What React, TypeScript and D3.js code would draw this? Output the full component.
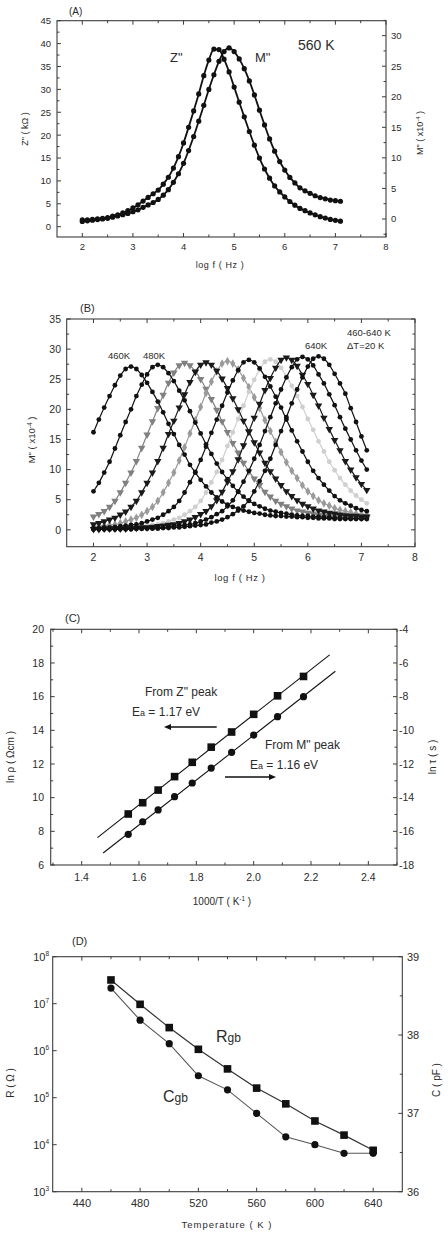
import React from "react";
import * as d3 from "d3";

const FONT = "'Liberation Sans', Arial, Helvetica, sans-serif";
const INK = "#2b2b2b";
const LINE = "#3c3c3c";

// shared frequency grid, log f (Hz)
const logF = [
  2.0, 2.1, 2.2, 2.3, 2.4, 2.5, 2.6, 2.7, 2.8, 2.9,
  3.0, 3.1, 3.2, 3.3, 3.4, 3.5, 3.6, 3.7, 3.8, 3.9,
  4.0, 4.1, 4.2, 4.3, 4.4, 4.5, 4.6, 4.7, 4.8, 4.9,
  5.0, 5.1, 5.2, 5.3, 5.4, 5.5, 5.6, 5.7, 5.8, 5.9,
  6.0, 6.1, 6.2, 6.3, 6.4, 6.5, 6.6, 6.7, 6.8, 6.9,
  7.0, 7.1,
];

// (A) 560 K : Z'' (kOhm, left) and M'' (x1e-4, right)
const zA = [
  1.5, 1.5, 1.6, 1.7, 1.8, 2.0, 2.3, 2.6, 3.0, 3.5,
  4.1, 4.8, 5.6, 6.4, 7.2, 8.0, 9.3, 10.8, 12.8, 15.3,
  18.3, 21.7, 25.3, 29.0, 33.0, 36.4, 38.8, 38.7, 36.6, 33.8,
  30.5, 27.2, 24.0, 20.8, 17.8, 15.0, 12.6, 10.6, 8.9, 7.6,
  6.5, 5.5, 4.7, 4.0, 3.5, 3.0, 2.6, 2.2, 1.9, 1.6,
  1.4, 1.2,
];
const mA = [
  -0.4, -0.3, -0.2, -0.1, 0.0, 0.1, 0.3, 0.5, 0.7, 0.9,
  1.2, 1.5, 1.9, 2.3, 2.7, 3.2, 3.9, 4.8, 6.0, 7.4,
  9.1, 11.2, 13.5, 16.0, 18.6, 21.2, 23.6, 25.8, 27.4, 28.0,
  27.4, 26.2, 24.6, 22.6, 20.3, 17.8, 15.4, 13.1, 11.1, 9.4,
  8.0, 6.8, 5.9, 5.1, 4.6, 4.2, 3.8, 3.5, 3.3, 3.1,
  3.0, 2.9,
];

// (B) M'' (x1e-4), 460-640 K
const tempsB = [460, 480, 500, 520, 540, 560, 580, 600, 620, 640];
const mB460 = [
  16.2, 18.3, 20.3, 22.2, 24.0, 25.6, 26.7, 27.1, 26.7, 25.7,
  24.4, 22.9, 21.3, 19.5, 17.6, 15.9, 14.1, 12.5, 10.8, 9.5,
  8.3, 7.2, 6.2, 5.4, 4.7, 4.2, 3.8, 3.5, 3.2, 3.0,
  2.8, 2.7, 2.5, 2.4, 2.3, 2.3, 2.2, 2.2, 2.1, 2.1,
  2.0, 2.0, 1.9, 1.9, 1.9, 1.8, 1.8, 1.8, 1.8, 1.8,
  1.8, 1.8,
];
const mB480 = [
  6.4, 7.8, 9.5, 11.3, 13.5, 15.7, 17.9, 20.0, 22.2, 24.1,
  25.8, 27.0, 27.4, 27.0, 26.0, 24.7, 23.1, 21.5, 19.7, 17.8,
  16.0, 14.2, 12.6, 11.0, 9.6, 8.4, 7.3, 6.3, 5.5, 4.8,
  4.3, 3.9, 3.5, 3.2, 3.0, 2.8, 2.7, 2.5, 2.4, 2.3,
  2.3, 2.2, 2.2, 2.1, 2.1, 2.0, 2.0, 1.9, 1.9, 1.9,
  1.9, 1.9,
];
const mB500 = [
  2.2, 2.6, 3.1, 3.8, 4.8, 6.2, 7.8, 9.5, 11.4, 13.6,
  15.8, 18.0, 20.2, 22.4, 24.4, 26.1, 27.3, 27.7, 27.3, 26.3,
  25.0, 23.4, 21.7, 19.9, 18.0, 16.2, 14.4, 12.8, 11.1, 9.7,
  8.5, 7.4, 6.3, 5.5, 4.8, 4.3, 3.9, 3.5, 3.2, 3.0,
  2.8, 2.7, 2.5, 2.4, 2.3, 2.3, 2.2, 2.2, 2.1, 2.1,
  2.0, 2.0,
];
const mB520 = [
  0.9, 1.1, 1.4, 1.7, 2.0, 2.5, 3.0, 3.8, 4.8, 6.2,
  7.8, 9.5, 11.4, 13.6, 15.9, 18.1, 20.3, 22.5, 24.5, 26.2,
  27.4, 27.8, 27.4, 26.4, 25.1, 23.5, 21.8, 20.0, 18.1, 16.3,
  14.5, 12.8, 11.1, 9.7, 8.5, 7.4, 6.4, 5.6, 4.9, 4.3,
  3.9, 3.5, 3.2, 3.0, 2.8, 2.7, 2.5, 2.4, 2.3, 2.3,
  2.2, 2.2,
];
const mB540 = [
  0.5, 0.6, 0.7, 0.8, 0.9, 1.1, 1.4, 1.7, 2.0, 2.5,
  3.1, 3.8, 4.8, 6.2, 7.8, 9.5, 11.5, 13.7, 16.0, 18.2,
  20.4, 22.7, 24.6, 26.3, 27.6, 28.0, 27.6, 26.6, 25.2, 23.7,
  22.0, 20.2, 18.2, 16.4, 14.6, 12.9, 11.2, 9.8, 8.6, 7.4,
  6.4, 5.6, 4.9, 4.4, 4.0, 3.6, 3.3, 3.1, 2.9, 2.7,
  2.6, 2.5,
];
const mB560 = [
  0.3, 0.3, 0.4, 0.4, 0.5, 0.6, 0.7, 0.8, 0.9, 1.1,
  1.4, 1.7, 2.0, 2.5, 3.1, 3.8, 4.8, 6.2, 7.9, 9.6,
  11.6, 13.8, 16.1, 18.3, 20.6, 22.8, 24.8, 26.5, 27.8, 28.2,
  27.8, 26.8, 25.4, 23.8, 22.1, 20.3, 18.3, 16.5, 14.7, 13.0,
  11.3, 9.8, 8.6, 7.5, 6.5, 5.6, 4.9, 4.4, 4.0, 3.6,
  3.3, 3.1,
];
const mB580 = [
  0.2, 0.2, 0.2, 0.2, 0.3, 0.3, 0.4, 0.4, 0.5, 0.6,
  0.7, 0.8, 0.9, 1.1, 1.4, 1.7, 2.0, 2.5, 3.1, 3.8,
  4.8, 6.2, 7.9, 9.6, 11.6, 13.9, 16.2, 18.4, 20.6, 22.9,
  24.9, 26.6, 27.9, 28.3, 27.9, 26.9, 25.5, 23.9, 22.2, 20.4,
  18.4, 16.6, 14.7, 13.0, 11.3, 9.9, 8.6, 7.5, 6.5, 5.7,
  5.0, 4.4,
];
const mB600 = [
  0.1, 0.1, 0.2, 0.2, 0.2, 0.2, 0.2, 0.3, 0.3, 0.4,
  0.4, 0.5, 0.6, 0.7, 0.8, 0.9, 1.1, 1.4, 1.7, 2.1,
  2.6, 3.1, 3.9, 4.9, 6.3, 8.0, 9.7, 11.7, 14.0, 16.3,
  18.6, 20.9, 23.2, 25.2, 26.9, 28.2, 28.6, 28.2, 27.2, 25.7,
  24.2, 22.4, 20.6, 18.6, 16.7, 14.9, 13.2, 11.4, 10.0, 8.7,
  7.6, 6.6,
];
const mB620 = [
  0.1, 0.1, 0.1, 0.1, 0.1, 0.2, 0.2, 0.2, 0.2, 0.2,
  0.3, 0.3, 0.4, 0.4, 0.5, 0.6, 0.7, 0.8, 0.9, 1.1,
  1.4, 1.7, 2.1, 2.6, 3.1, 3.9, 4.9, 6.4, 8.0, 9.8,
  11.8, 14.1, 16.4, 18.7, 21.0, 23.3, 25.3, 27.0, 28.3, 28.7,
  28.3, 27.3, 25.8, 24.3, 22.5, 20.7, 18.7, 16.8, 15.0, 13.2,
  11.5, 10.0,
];
const mB640 = [
  0.1, 0.1, 0.1, 0.1, 0.1, 0.1, 0.1, 0.1, 0.2, 0.2,
  0.2, 0.2, 0.2, 0.3, 0.3, 0.4, 0.4, 0.5, 0.6, 0.7,
  0.8, 0.9, 1.2, 1.4, 1.7, 2.1, 2.6, 3.2, 3.9, 4.9,
  6.4, 8.1, 9.8, 11.8, 14.1, 16.4, 18.7, 21.0, 23.3, 25.3,
  27.1, 28.4, 28.8, 28.4, 27.4, 25.9, 24.3, 22.6, 20.2, 17.9,
  15.5, 13.2,
];
const seriesB = [mB460, mB480, mB500, mB520, mB540, mB560, mB580, mB600, mB620, mB640];

// (C) Arrhenius plots
const invT = [1.5625, 1.6129, 1.6667, 1.7241, 1.7857, 1.8519, 1.9231, 2.0, 2.0833, 2.1739];
const lnRho = [9.03, 9.7, 10.45, 11.25, 12.1, 13.0, 13.9, 14.95, 16.05, 17.2];
const lnTau = [-16.18, -15.43, -14.73, -13.94, -13.13, -12.24, -11.31, -10.28, -9.19, -8.0];
const zFitX = [1.455, 2.265];
const mFitX = [1.475, 2.285];

// (D) grain boundary R and C
const tempD = [460, 480, 500, 520, 540, 560, 580, 600, 620, 640];
const rGb = [3.2e7, 9.7e6, 3.1e6, 1.07e6, 4.1e5, 1.6e5, 7.4e4, 3.2e4, 1.6e4, 7.6e3];
const cGb = [38.6, 38.19, 37.89, 37.48, 37.3, 37.0, 36.7, 36.6, 36.49, 36.49];

type Ax = {
  scale: (v: number) => number;
  major: number[];
  minor?: number[];
  label?: (v: number) => React.ReactNode;
};

function Box({ left, right, top, bottom, xb, yl, yr, fs, xLabY, lLabX, rLabX }: any) {
  const T = 4, t = 2.5;
  const xa: Ax = xb, la: Ax = yl, ra: Ax | undefined = yr;
  return (
    <g fontFamily={FONT} fontSize={fs} fill={INK}>
      <rect x={left} y={top} width={right - left} height={bottom - top} fill="none" stroke={LINE} strokeWidth={1.1} />
      {xa.major.map((v) => {
        const p = xa.scale(v);
        return (
          <g key={"xm" + v}>
            <line x1={p} x2={p} y1={bottom} y2={bottom - T} stroke={LINE} />
            <line x1={p} x2={p} y1={top} y2={top + T} stroke={LINE} />
            <text x={p} y={xLabY} textAnchor="middle">{xa.label ? xa.label(v) : v}</text>
          </g>
        );
      })}
      {(xa.minor || []).map((v) => {
        const p = xa.scale(v);
        return (
          <g key={"xn" + v}>
            <line x1={p} x2={p} y1={bottom} y2={bottom - t} stroke={LINE} />
            <line x1={p} x2={p} y1={top} y2={top + t} stroke={LINE} />
          </g>
        );
      })}
      {la.major.map((v) => {
        const p = la.scale(v);
        return (
          <g key={"lm" + v}>
            <line x1={left} x2={left + T} y1={p} y2={p} stroke={LINE} />
            {!ra && <line x1={right} x2={right - T} y1={p} y2={p} stroke={LINE} />}
            <text x={lLabX} y={p + fs * 0.36} textAnchor="end">{la.label ? la.label(v) : v}</text>
          </g>
        );
      })}
      {(la.minor || []).map((v) => {
        const p = la.scale(v);
        return (
          <g key={"ln" + v}>
            <line x1={left} x2={left + t} y1={p} y2={p} stroke={LINE} />
            {!ra && <line x1={right} x2={right - t} y1={p} y2={p} stroke={LINE} />}
          </g>
        );
      })}
      {ra &&
        ra.major.map((v) => {
          const p = ra.scale(v);
          return (
            <g key={"rm" + v}>
              <line x1={right} x2={right - T} y1={p} y2={p} stroke={LINE} />
              <text x={rLabX} y={p + fs * 0.36} textAnchor="start">{ra.label ? ra.label(v) : v}</text>
            </g>
          );
        })}
      {ra &&
        (ra.minor || []).map((v) => {
          const p = ra.scale(v);
          return <line key={"rn" + v} x1={right} x2={right - t} y1={p} y2={p} stroke={LINE} />;
        })}
    </g>
  );
}

function VLabel({ x, y, fs, children }: any) {
  return (
    <text transform={`translate(${x},${y}) rotate(-90)`} textAnchor="middle" fontFamily={FONT} fontSize={fs} fill={INK}>
      {children}
    </text>
  );
}

function Arrow({ x1, x2, y }: any) {
  const dir = Math.sign(x2 - x1);
  return (
    <g>
      <line x1={x1} x2={x2 - dir * 5} y1={y} y2={y} stroke="#111" strokeWidth={1.3} />
      <path d={`M${x2},${y} L${x2 - dir * 7},${y - 3} L${x2 - dir * 7},${y + 3} Z`} fill="#111" />
    </g>
  );
}

const half = (a: number, b: number, s: number) => d3.range(a, b + 1e-9, s);

function PanelA() {
  const x = d3.scaleLinear().domain([1.5, 8]).range([57, 386]);
  const yl = d3.scaleLinear().domain([-2.25, 45]).range([237, 20.7]);
  const yr = d3.scaleLinear().domain([-2.95, 32.45]).range([237, 20.7]);
  const lz = d3.line<number>().x((_, i) => x(logF[i])).y((v) => yl(v)).curve(d3.curveMonotoneX);
  const lm = d3.line<number>().x((_, i) => x(logF[i])).y((v) => yr(v)).curve(d3.curveMonotoneX);
  return (
    <g>
      <Box
        left={57} right={386} top={20.7} bottom={237} fs={9.5} xLabY={250} lLabX={51} rLabX={391}
        xb={{ scale: x, major: half(2, 8, 1), minor: half(2.5, 7.5, 1) }}
        yl={{ scale: yl, major: half(0, 45, 5), minor: half(2.5, 42.5, 5) }}
        yr={{ scale: yr, major: half(0, 30, 5), minor: half(-2.5, 32.5, 2.5).filter((v) => v % 5 !== 0) }}
      />
      <path d={lz(zA) || ""} fill="none" stroke="#111" strokeWidth={1.8} />
      <path d={lm(mA) || ""} fill="none" stroke="#111" strokeWidth={1.8} />
      {zA.map((v, i) => <circle key={"z" + i} cx={x(logF[i])} cy={yl(v)} r={2.6} fill="#111" />)}
      {mA.map((v, i) => <circle key={"m" + i} cx={x(logF[i])} cy={yr(v)} r={2.6} fill="#111" />)}
      <g fontFamily={FONT} fill={INK}>
        <text x={69} y={15} fontSize={10}>(A)</text>
        <text x={170} y={62} fontSize={13}>Z"</text>
        <text x={255} y={62} fontSize={13}>M"</text>
        <text x={298} y={50} fontSize={14}>560 K</text>
        <text x={220} y={268} fontSize={9} textAnchor="middle" letterSpacing={0.6}>log f ( Hz )</text>
      </g>
      <VLabel x={28} y={129} fs={9}>Z" ( kΩ )</VLabel>
      <VLabel x={423} y={133} fs={9}>
        M" ( x10<tspan dy={-3} fontSize={6}>-4</tspan><tspan dy={3}> )</tspan>
      </VLabel>
    </g>
  );
}

const styleB: Record<number, { fill: string; shape: string }> = {
  460: { fill: "#111", shape: "circle" },
  480: { fill: "#111", shape: "circle" },
  500: { fill: "#808080", shape: "tri" },
  520: { fill: "#1a1a1a", shape: "tri" },
  540: { fill: "#9a9a9a", shape: "diamond" },
  560: { fill: "#111", shape: "circle" },
  580: { fill: "#cfcfcf", shape: "circle" },
  600: { fill: "#1a1a1a", shape: "tri" },
  620: { fill: "#111", shape: "circle" },
  640: { fill: "#111", shape: "circle" },
};

function PanelB() {
  const x = d3.scaleLinear().domain([1.5, 8]).range([66.7, 415]);
  const y = d3.scaleLinear().domain([-2.8, 35]).range([546.7, 319]);
  const line = d3.line<number>().x((_, i) => x(logF[i])).y((v) => y(v)).curve(d3.curveMonotoneX);
  const tri = d3.symbol().type(d3.symbolTriangle).size(24)() || "";
  const dia = d3.symbol().type(d3.symbolDiamond).size(22)() || "";
  const dark = (k: number) => (styleB[tempsB[k]].fill === "#111" || styleB[tempsB[k]].fill === "#1a1a1a" ? 1 : 0);
  const order = tempsB.map((t, k) => k).sort((a, b) => dark(a) - dark(b));
  return (
    <g>
      <Box
        left={66.7} right={415} top={319} bottom={546.7} fs={10.5} xLabY={561} lLabX={61}
        xb={{ scale: x, major: half(2, 8, 1), minor: half(2.5, 7.5, 1) }}
        yl={{ scale: y, major: half(0, 35, 5), minor: half(2.5, 32.5, 5) }}
      />
      {order.map((k) => {
        const s = styleB[tempsB[k]];
        const data = seriesB[k];
        return (
          <g key={"b" + tempsB[k]}>
            <path d={line(data) || ""} fill="none" stroke={s.fill} strokeWidth={1.2} />
            {data.map((v, i) => {
              const cx = x(logF[i]), cy = y(v);
              if (s.shape === "circle") return <circle key={i} cx={cx} cy={cy} r={2.4} fill={s.fill} />;
              if (s.shape === "tri")
                return <path key={i} d={tri} transform={`translate(${cx},${cy}) rotate(180)`} fill={s.fill} />;
              return <path key={i} d={dia} transform={`translate(${cx},${cy})`} fill={s.fill} />;
            })}
          </g>
        );
      })}
      <g fontFamily={FONT} fill={INK} fontSize={9.5}>
        <text x={80} y={312} fontSize={11}>(B)</text>
        <text x={108} y={359}>460K</text>
        <text x={143} y={359}>480K</text>
        <text x={305} y={349}>640K</text>
        <text x={347} y={349}>ΔT=20 K</text>
        <text x={347} y={336}>460-640 K</text>
        <text x={240} y={581} textAnchor="middle" letterSpacing={0.6}>log f ( Hz )</text>
      </g>
      <VLabel x={35} y={440} fs={9.5}>
        M" ( x10<tspan dy={-3} fontSize={6.5}>-4</tspan><tspan dy={3}> )</tspan>
      </VLabel>
    </g>
  );
}

function fit(xs: number[], ys: number[]) {
  const mx = d3.mean(xs) as number, my = d3.mean(ys) as number;
  const b = d3.sum(xs, (v, i) => (v - mx) * (ys[i] - my)) / d3.sum(xs, (v) => (v - mx) ** 2);
  return (v: number) => my + b * (v - mx);
}

function PanelC() {
  const x = d3.scaleLinear().domain([1.292, 2.5]).range([50.7, 397]);
  const yl = d3.scaleLinear().domain([6, 20]).range([865, 629.3]);
  const yr = d3.scaleLinear().domain([-18, -4]).range([865, 629.3]);
  const fz = fit(invT, lnRho), fm = fit(invT, lnTau);
  return (
    <g>
      <Box
        left={50.7} right={397} top={629.3} bottom={865} fs={10.5} xLabY={881} lLabX={44} rLabX={399}
        xb={{ scale: x, major: half(1.4, 2.4, 0.2), minor: half(1.3, 2.5, 0.2), label: (v: number) => v.toFixed(1) }}
        yl={{ scale: yl, major: half(6, 20, 2), minor: half(7, 19, 2) }}
        yr={{ scale: yr, major: half(-18, -4, 2), minor: half(-17, -5, 2) }}
      />
      <line x1={x(zFitX[0])} x2={x(zFitX[1])} y1={yl(fz(zFitX[0]))} y2={yl(fz(zFitX[1]))} stroke="#111" strokeWidth={1.1} />
      <line x1={x(mFitX[0])} x2={x(mFitX[1])} y1={yr(fm(mFitX[0]))} y2={yr(fm(mFitX[1]))} stroke="#111" strokeWidth={1.1} />
      {invT.map((v, i) => (
        <rect key={"s" + i} x={x(v) - 3.8} y={yl(lnRho[i]) - 3.8} width={7.6} height={7.6} fill="#111" />
      ))}
      {invT.map((v, i) => <circle key={"c" + i} cx={x(v)} cy={yr(lnTau[i])} r={3.6} fill="#111" />)}
      <g fontFamily={FONT} fill={INK} fontSize={12}>
        <text x={65} y={622} fontSize={11}>(C)</text>
        <text x={145} y={696}>From Z" peak</text>
        <text x={132} y={716}>E<tspan fontSize={9}>a</tspan> = 1.17 eV</text>
        <text x={265} y={749}>From M" peak</text>
        <text x={250} y={769}>E<tspan fontSize={9}>a</tspan> = 1.16 eV</text>
        <text x={222} y={905} fontSize={10} textAnchor="middle">
          1000/T  ( K<tspan dy={-4} fontSize={6.5}>-1</tspan><tspan dy={4}> )</tspan>
        </text>
      </g>
      <Arrow x1={216.7} x2={164} y={727} />
      <Arrow x1={225} x2={276} y={777} />
      <VLabel x={14} y={757} fs={10}>ln ρ ( Ωcm )</VLabel>
      <VLabel x={436} y={757} fs={10}>ln τ ( s )</VLabel>
    </g>
  );
}

function PanelD() {
  const x = d3.scaleLinear().domain([420, 660]).range([52.7, 402.3]);
  const yl = d3.scaleLog().domain([1e3, 1e8]).range([1191.7, 956.7]);
  const yr = d3.scaleLinear().domain([36, 39]).range([1191.7, 956.7]);
  const lr = d3.line<number>().x((_, i) => x(tempD[i])).y((v) => yl(v));
  const lc = d3.line<number>().x((_, i) => x(tempD[i])).y((v) => yr(v));
  const decades = [1e3, 1e4, 1e5, 1e6, 1e7, 1e8];
  return (
    <g>
      <Box
        left={52.7} right={402.3} top={956.7} bottom={1191.7} fs={11} xLabY={1207} lLabX={49} rLabX={407}
        xb={{ scale: x, major: half(440, 640, 40), minor: half(460, 620, 40) }}
        yl={{
          scale: yl,
          major: decades,
          label: (v: number) => (
            <>
              10<tspan dy={-5} fontSize={6.5}>{Math.round(Math.log10(v))}</tspan>
            </>
          ),
        }}
        yr={{ scale: yr, major: half(36, 39, 1), minor: half(36.5, 38.5, 1) }}
      />
      <path d={lc(cGb) || ""} fill="none" stroke="#555" strokeWidth={1.1} />
      <path d={lr(rGb) || ""} fill="none" stroke="#333" strokeWidth={1.2} />
      {tempD.map((t, i) => <circle key={"c" + i} cx={x(t)} cy={yr(cGb[i])} r={3.6} fill="#111" />)}
      {tempD.map((t, i) => (
        <rect key={"r" + i} x={x(t) - 3.8} y={yl(rGb[i]) - 3.8} width={7.6} height={7.6} fill="#111" />
      ))}
      <g fontFamily={FONT} fill={INK}>
        <text x={72} y={945} fontSize={11}>(D)</text>
        <text x={216} y={1042} fontSize={16}>R<tspan fontSize={12}>gb</tspan></text>
        <text x={163} y={1102} fontSize={16}>C<tspan fontSize={12}>gb</tspan></text>
        <text x={227} y={1228} fontSize={9.5} textAnchor="middle" letterSpacing={1}>Temperature ( K )</text>
      </g>
      <VLabel x={14} y={1083} fs={10}>R ( Ω )</VLabel>
      <VLabel x={440} y={1080} fs={10}>C ( pF )</VLabel>
    </g>
  );
}

export default function App() {
  return (
    <svg width={448} height={1233} style={{ position: "absolute", left: 0, top: 0, background: "#fff" }}>
      <rect width={448} height={1233} fill="#fff" />
      <PanelA />
      <PanelB />
      <PanelC />
      <PanelD />
    </svg>
  );
}
